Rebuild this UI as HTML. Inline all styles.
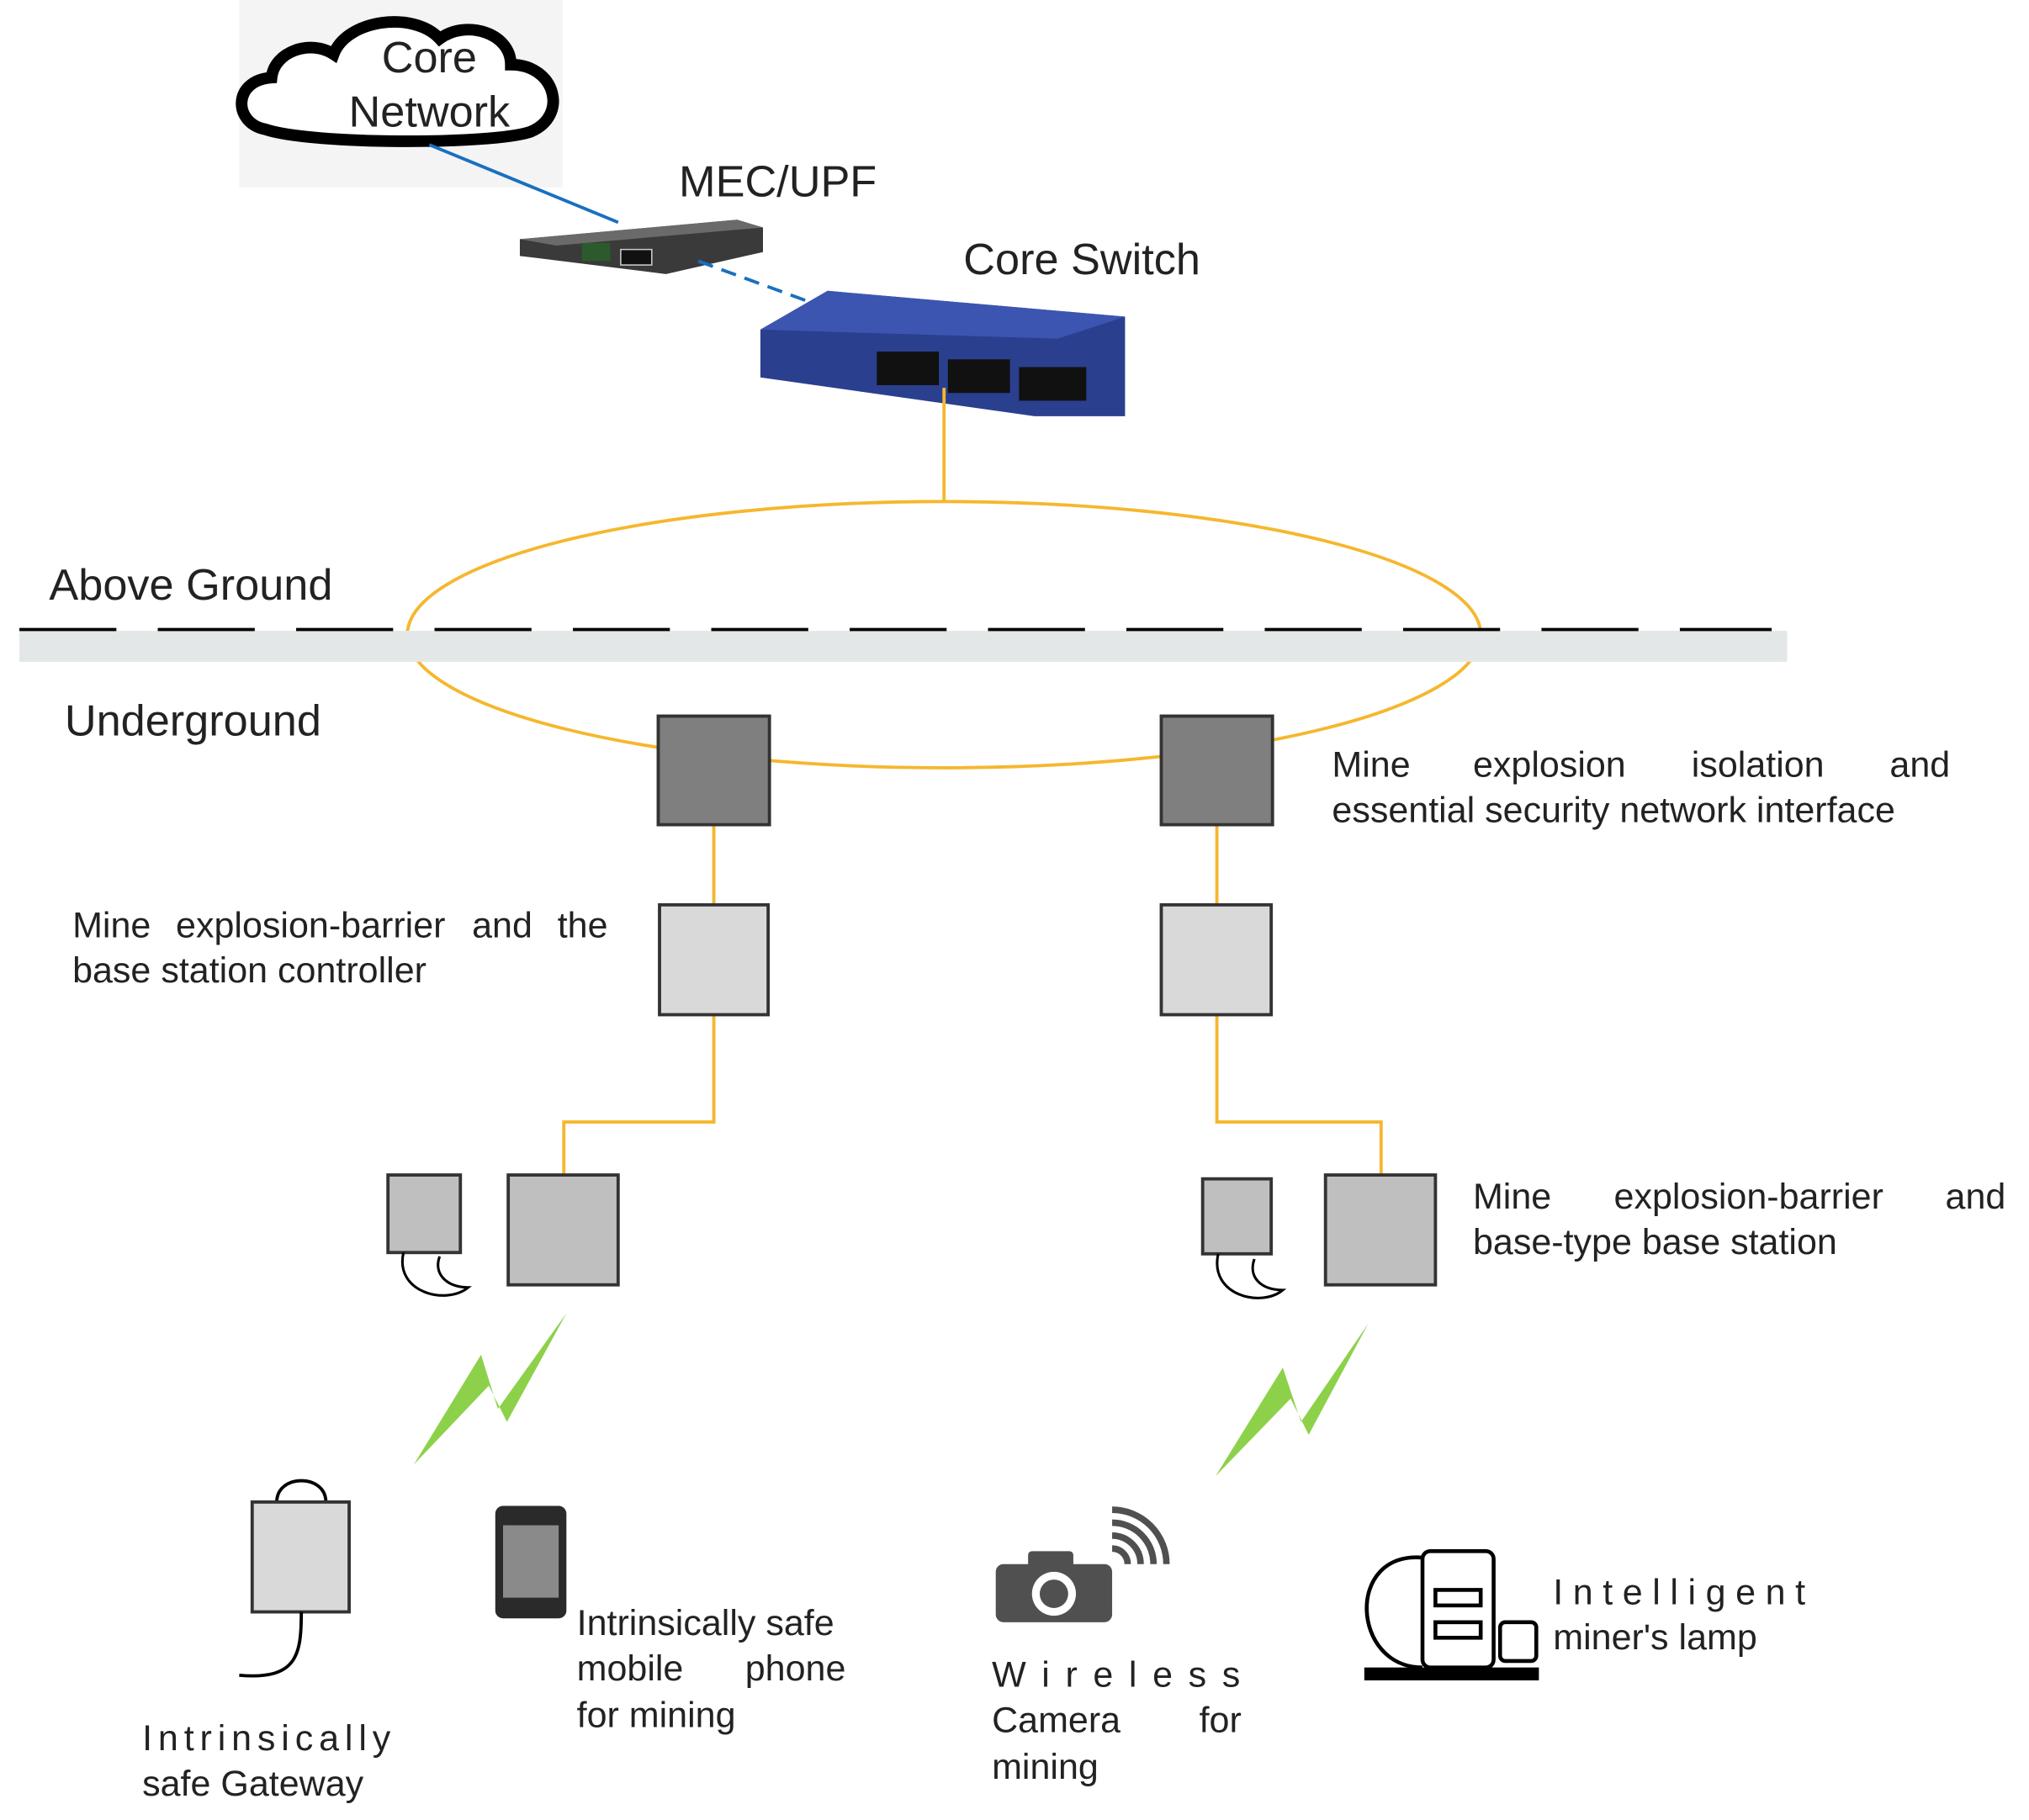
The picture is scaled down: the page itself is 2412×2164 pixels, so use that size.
<!DOCTYPE html>
<html><head><meta charset="utf-8"><style>
html,body{margin:0;padding:0;background:#fff;}
svg{display:block;}
text{font-family:"Liberation Sans",sans-serif;fill:#222;}
</style></head><body>
<svg width="2412" height="2164" viewBox="0 0 1569 1408" preserveAspectRatio="none" xmlns="http://www.w3.org/2000/svg">
<!-- cloud -->
<rect x="185" y="0" width="250" height="145" fill="#f4f4f4"/>
<path d="M205,100 C180,95 180,62 210,60 C212,40 240,30 258,42 C268,15 320,8 340,30 C360,15 395,25 395,50 C430,50 440,90 410,102 C380,112 240,112 205,100 Z" fill="#fff" stroke="#000" stroke-width="9"/>
<text x="332" y="56" font-size="34" text-anchor="middle">Core</text>
<text x="332" y="98" font-size="34" text-anchor="middle">Network</text>
<line x1="332" y1="112" x2="478" y2="172" stroke="#1a6fc0" stroke-width="2.5"/>
<!-- MEC -->
<text x="525" y="152" font-size="34">MEC/UPF</text>
<polygon points="402,185 570,170 590,176 590,195 515,212 402,198" fill="#3a3a3a"/>
<polygon points="402,185 570,170 590,176 430,190" fill="#6a6a6a"/>
<rect x="480" y="193" width="24" height="12" fill="#111" stroke="#ccc" stroke-width="1"/>
<rect x="450" y="188" width="22" height="14" fill="#2c5a2c"/>
<line x1="540" y1="202" x2="630" y2="235" stroke="#1a6fc0" stroke-width="2.5" stroke-dasharray="12,7"/>
<!-- switch -->
<text x="745" y="212" font-size="34">Core Switch</text>
<polygon points="588,255 640,225 870,245 870,322 800,322 588,292" fill="#2b3f8f"/>
<polygon points="588,255 640,225 870,245 818,262" fill="#3c55b0"/>
<rect x="678" y="272" width="48" height="26" fill="#111"/>
<rect x="733" y="278" width="48" height="26" fill="#111"/>
<rect x="788" y="284" width="52" height="26" fill="#111"/>
<line x1="730" y1="300" x2="730" y2="388" stroke="#f5b72e" stroke-width="2.5"/>
<!-- ring -->
<ellipse cx="730" cy="491" rx="415" ry="103" fill="none" stroke="#f5b72e" stroke-width="2.5"/>
<rect x="15" y="488" width="1367" height="24" fill="#e4e7e7"/>
<line x1="15" y1="487" x2="1370" y2="487" stroke="#000" stroke-width="2.5" stroke-dasharray="75,32"/>
<text x="38" y="464" font-size="34">Above Ground</text>
<text x="50" y="569" font-size="34">Underground</text>
<!-- connectors -->
<g stroke="#f5b72e" stroke-width="2.5" fill="none">
<path d="M552,638 V700 M552,785 V868 H436 V909"/>
<path d="M941,638 V700 M941,785 V868 H1068 V909"/>
</g>
<g stroke="#333" stroke-width="2.5">
<rect x="509" y="554" width="86" height="84" fill="#7f7f7f"/>
<rect x="898" y="554" width="86" height="84" fill="#7f7f7f"/>
<rect x="510" y="700" width="84" height="85" fill="#d9d9d9"/>
<rect x="898" y="700" width="85" height="85" fill="#d9d9d9"/>
<rect x="393" y="909" width="85" height="85" fill="#bfbfbf"/>
<rect x="1025" y="909" width="85" height="85" fill="#bfbfbf"/>
<rect x="300" y="909" width="56" height="60" fill="#bfbfbf"/>
<rect x="930" y="912" width="53" height="58" fill="#bfbfbf"/>
</g>
<g stroke="#000" stroke-width="2" fill="none">
<path d="M312,969 C305,1000 345,1010 362,996 C345,996 335,985 340,972"/>
<path d="M942,970 C935,1002 975,1012 992,998 C975,998 965,988 970,974"/>
</g>
<!-- texts right -->
<g font-size="28">
<text x="1030" y="601">Mine</text><text x="1139" y="601">explosion</text><text x="1308" y="601">isolation</text><text x="1508" y="601" text-anchor="end">and</text>
<text x="1030" y="636">essential security network interface</text>
<text x="56" y="725">Mine</text><text x="136" y="725">explosion-barrier</text><text x="365" y="725">and</text><text x="470" y="725" text-anchor="end">the</text>
<text x="56" y="760">base station controller</text>
<text x="1139" y="935">Mine</text><text x="1248" y="935">explosion-barrier</text><text x="1551" y="935" text-anchor="end">and</text>
<text x="1139" y="970">base-type base station</text>
</g>
<!-- lightning -->
<g fill="#8dd14a">
<polygon points="320,1133 372,1048 385,1090 438,1016 392,1100 378,1072"/>
<polygon points="940,1142 992,1058 1006,1100 1058,1024 1012,1110 998,1082"/>
</g>
<!-- gateway -->
<path d="M214,1162 C214,1140 252,1140 252,1162" stroke="#000" stroke-width="2.5" fill="none"/>
<rect x="195" y="1162" width="75" height="85" fill="#d9d9d9" stroke="#333" stroke-width="2.5"/>
<path d="M233,1247 C233,1280 230,1300 185,1296" stroke="#000" stroke-width="2.5" fill="none"/>
<text x="110" y="1354" font-size="28" textLength="192" lengthAdjust="spacing">Intrinsically</text>
<text x="110" y="1389" font-size="28">safe Gateway</text>
<!-- phone -->
<rect x="383" y="1165" width="55" height="87" rx="6" fill="#2a2a2a"/>
<rect x="389" y="1180" width="43" height="56" fill="#8a8a8a"/>
<g font-size="28">
<text x="446" y="1265">Intrinsically safe</text>
<text x="446" y="1300">mobile</text><text x="654" y="1300" text-anchor="end">phone</text>
<text x="446" y="1336">for mining</text>
</g>
<!-- camera -->
<rect x="770" y="1210" width="90" height="45" rx="6" fill="#505050"/>
<rect x="795" y="1200" width="35" height="14" rx="3" fill="#505050"/>
<circle cx="815" cy="1233" r="17" fill="#fff"/>
<circle cx="815" cy="1233" r="11" fill="#505050"/>
<g stroke="#505050" stroke-width="5" fill="none">
<path d="M860,1198 A12,12 0 0 1 872,1210"/>
<path d="M860,1188 A22,22 0 0 1 882,1210"/>
<path d="M860,1178 A32,32 0 0 1 892,1210"/>
<path d="M860,1168 A42,42 0 0 1 902,1210"/>
</g>
<g font-size="28">
<text x="767" y="1305" textLength="192" lengthAdjust="spacing">Wireless</text>
<text x="767" y="1340">Camera</text><text x="960" y="1340" text-anchor="end">for</text>
<text x="767" y="1376">mining</text>
</g>
<!-- lamp -->
<g stroke="#000" stroke-width="3" fill="#fff">
<path d="M1100,1205 C1040,1200 1045,1290 1100,1290" fill="none"/>
<rect x="1100" y="1200" width="55" height="90" rx="6"/>
<rect x="1110" y="1230" width="35" height="12"/>
<rect x="1110" y="1255" width="35" height="12"/>
<rect x="1160" y="1255" width="28" height="30" rx="4"/>
</g>
<rect x="1055" y="1290" width="135" height="10" fill="#000"/>
<text x="1201" y="1241" font-size="28" textLength="195" lengthAdjust="spacing">Intelligent</text>
<text x="1201" y="1276" font-size="28">miner's lamp</text>
</svg>
</body></html>
